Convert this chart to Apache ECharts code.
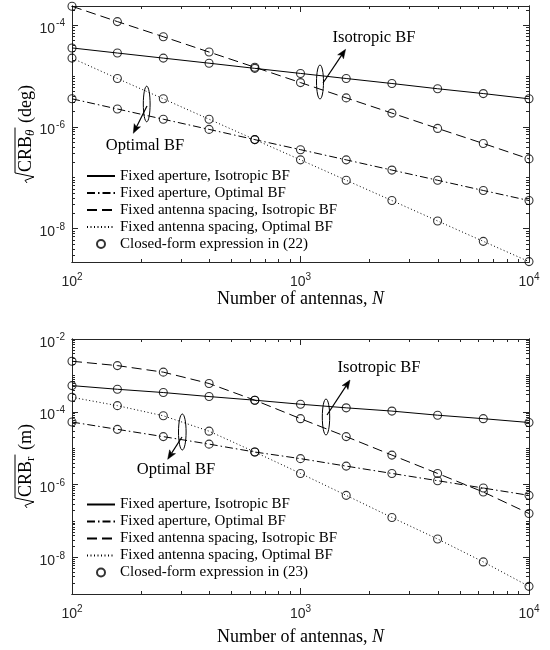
<!DOCTYPE html>
<html><head><meta charset="utf-8">
<script src="https://cdn.jsdelivr.net/npm/echarts@6/dist/echarts.min.js"></script>
<style>html,body{margin:0;padding:0;background:#fff}#c{width:550px;height:650px}</style>
</head><body><div id="c"></div>
<script>
// ---------------- data ----------------
const N = [100, 158, 251, 398, 631, 1000, 1585, 2512, 3981, 6310, 10000];

// top panel: sqrt(CRB_theta) in deg
const thetaApertureIso = [3.55e-5, 2.82e-5, 2.24e-5, 1.78e-5, 1.41e-5, 1.12e-5, 8.9e-6, 7.1e-6, 5.6e-6, 4.5e-6, 3.55e-6];
const thetaApertureOpt = [3.55e-6, 2.24e-6, 1.41e-6, 8.9e-7, 5.6e-7, 3.55e-7, 2.24e-7, 1.41e-7, 8.9e-8, 5.6e-8, 3.55e-8];
const thetaSpacingIso  = [2.34e-4, 1.17e-4, 5.9e-5, 2.95e-5, 1.48e-5, 7.4e-6, 3.7e-6, 1.86e-6, 9.3e-7, 4.7e-7, 2.34e-7];
const thetaSpacingOpt  = [2.24e-5, 8.9e-6, 3.55e-6, 1.41e-6, 5.6e-7, 2.24e-7, 8.9e-8, 3.55e-8, 1.41e-8, 5.6e-9, 2.24e-9];

// bottom panel: sqrt(CRB_r) in m
const rApertureIso = [5.25e-4, 4.17e-4, 3.39e-4, 2.63e-4, 2.09e-4, 1.62e-4, 1.29e-4, 1.05e-4, 8.1e-5, 6.5e-5, 5.1e-5];
const rApertureOpt = [5.25e-5, 3.31e-5, 2.09e-5, 1.30e-5, 7.9e-6, 5.2e-6, 3.24e-6, 2.04e-6, 1.29e-6, 8.1e-7, 5.1e-7];
const rSpacingIso  = [2.45e-3, 1.86e-3, 1.23e-3, 6.0e-4, 2.09e-4, 6.5e-5, 2.09e-5, 6.5e-6, 2.04e-6, 6.3e-7, 1.62e-7];
const rSpacingOpt  = [2.51e-4, 1.48e-4, 7.8e-5, 2.95e-5, 7.9e-6, 2.04e-6, 5.1e-7, 1.26e-7, 3.24e-8, 7.6e-9, 1.62e-9];

// axes
const xRange = [100, 10000];
const yRangeTop = [2.2e-9, 2.37e-4];
const yRangeBottom = [1e-9, 1e-2];
const xLabelTicks = [100, 1000, 10000];
const yLabelTicksTop = [1e-8, 1e-6, 1e-4];
const yLabelTicksBottom = [1e-8, 1e-6, 1e-4, 1e-2];

const names = [
  'Fixed aperture, Isotropic BF',
  'Fixed aperture, Optimal BF',
  'Fixed antenna spacing, Isotropic BF',
  'Fixed antenna spacing, Optimal BF'
];
const closedTop = 'Closed-form expression in (22)';
const closedBottom = 'Closed-form expression in (23)';

// ---------------- helpers ----------------
const AX = '#262626';
const SERIF = '"Liberation Serif", "Times New Roman", serif';
const SANS = '"Liberation Sans", Arial, Helvetica, sans-serif';
const dashTypes = ['solid', [8, 3, 1.5, 3], [10, 5], [1, 2.5]];

function minorTicks(lo, hi, majors) {
  const out = [];
  for (let k = Math.floor(Math.log10(lo)); k <= Math.ceil(Math.log10(hi)); k++) {
    for (let m = 1; m <= 9; m++) {
      const v = m * Math.pow(10, k);
      if (v >= lo * 0.9999 && v <= hi * 1.0001 && !majors.some(t => Math.abs(t - v) / t < 1e-6)) out.push(v);
    }
  }
  return out;
}
function expOf(v) { return Math.round(Math.log10(v)); }

// label configs: base "10" and the exponent drawn as separate labels
const baseLabel = {
  x: { margin: 8, formatter: () => '{b|10}',
       rich: { b: { fontFamily: SANS, fontSize: 14, color: AX, lineHeight: 14, padding: [11, 5.6, 0, 0] } } },
  y: { margin: 7, formatter: () => '{b|10}',
       rich: { b: { fontFamily: SANS, fontSize: 14, color: AX, lineHeight: 14, padding: [7.4, 10, 0, 0] } } }
};
const expLabel = {
  x: { margin: 8, formatter: v => '{s|' + expOf(v) + '}',
       rich: { s: { fontFamily: SANS, fontSize: 10, color: AX, lineHeight: 10, padding: [4, 0, 0, 15.6] } } },
  y: { margin: 7, formatter: v => '{s|' + expOf(v) + '}',
       rich: { s: { fontFamily: SANS, fontSize: 10, color: AX, lineHeight: 10, padding: [0, 0, 3.4, 0] } } }
};

function makeAxis(gridIndex, position, range, ticks, len, labelValues, labelCfg) {
  return {
    type: 'log', logBase: 10, gridIndex, position, min: range[0], max: range[1],
    axisLine: { show: true, onZero: false, lineStyle: { color: AX, width: 1 } },
    axisTick: { show: true, inside: true, length: len, customValues: ticks, lineStyle: { color: AX, width: 1 } },
    axisLabel: labelCfg ? Object.assign({ show: true, customValues: labelValues, hideOverlap: false }, labelCfg)
                        : { show: false },
    splitLine: { show: false }, minorTick: { show: false }, minorSplitLine: { show: false },
    silent: true
  };
}
function axesFor(gridIndex, dim, range, labelTicks) {
  const majors = labelTicks;
  const minors = minorTicks(range[0], range[1], majors);
  const p1 = dim === 'x' ? 'bottom' : 'left';
  const p2 = dim === 'x' ? 'top' : 'right';
  return [
    makeAxis(gridIndex, p1, range, majors, 6, labelTicks, baseLabel[dim]),
    makeAxis(gridIndex, p1, range, minors, 3, labelTicks, expLabel[dim]),
    makeAxis(gridIndex, p2, range, majors, 6, null, null),
    makeAxis(gridIndex, p2, range, minors, 3, null, null)
  ];
}

function pairs(ys) { return N.map((n, i) => [n, ys[i]]); }
function lineSeries(name, ys, idx, g) {
  return {
    type: 'line', name, xAxisIndex: g * 4, yAxisIndex: g * 4, data: pairs(ys),
    symbol: 'none', clip: false, silent: true, z: 3,
    itemStyle: { color: '#000' },
    lineStyle: { color: '#000', width: 1, type: dashTypes[idx] }
  };
}
function scatterSeries(name, sets, g) {
  let d = [];
  sets.forEach(s => { d = d.concat(pairs(s)); });
  return {
    type: 'scatter', name, xAxisIndex: g * 4, yAxisIndex: g * 4, data: d,
    symbol: 'circle', symbolSize: 8, clip: false, silent: true, z: 4,
    itemStyle: { color: 'rgba(0,0,0,0)', borderColor: '#000', borderWidth: 1.1 }
  };
}

// annotation helpers
function ellipse(cx, cy, rx, ry) {
  return { type: 'ellipse', shape: { cx, cy, rx, ry }, style: { fill: 'none', stroke: '#000', lineWidth: 1 }, z: 10 };
}
function arrow(x1, y1, x2, y2) {
  const dx = x2 - x1, dy = y2 - y1, L = Math.hypot(dx, dy);
  const ux = dx / L, uy = dy / L, hl = 9, hw = 3.5;
  const bx = x2 - ux * hl, by = y2 - uy * hl;
  return [
    { type: 'line', shape: { x1, y1, x2: bx + ux * 2, y2: by + uy * 2 }, style: { stroke: '#000', lineWidth: 1.2 }, z: 10 },
    { type: 'polygon', shape: { points: [[x2, y2], [bx - uy * hw, by + ux * hw], [bx + ux * 2, by + uy * 2], [bx + uy * hw, by - ux * hw]] },
      style: { fill: '#000', stroke: '#000', lineWidth: 0.5 }, z: 10 }
  ];
}
function label(text, x, y, size) {
  return { type: 'text', x, y, z: 10,
    style: { text, font: size + 'px ' + SERIF, fill: '#000', align: 'center', verticalAlign: 'middle' } };
}
function xTitle(x, y) {
  return { type: 'text', x, y, z: 10,
    style: { text: '{a|Number of antennas, }{i|N}', align: 'center', verticalAlign: 'middle',
      rich: { a: { fontFamily: SERIF, fontSize: 18, fill: '#000', color: '#000' },
              i: { fontFamily: SERIF, fontSize: 18, fontStyle: 'italic', fill: '#000', color: '#000' } } } };
}
function yTitle(cx, cy, sub, subItalic, unit) {
  const ctx = document.createElement('canvas').getContext('2d');
  const mainFont = '18px ' + SERIF;
  const subFont = (subItalic ? 'italic ' : '') + '13px ' + SERIF;
  ctx.font = mainFont;
  const wCRB = ctx.measureText('CRB').width;
  const wUnit = ctx.measureText(' ' + unit).width;
  ctx.font = subFont;
  const wSub = ctx.measureText(sub).width;
  const wRad = 11;
  const total = wRad + wCRB + wSub + 2 + wUnit;
  const x0 = -total / 2;
  const xC = x0 + wRad;
  const xEnd = xC + wCRB + wSub + 2;
  return {
    type: 'group', x: cx, y: cy, rotation: Math.PI / 2, z: 10,
    children: [
      { type: 'polyline', shape: { points: [[x0, 1], [x0 + 2.5, -1], [x0 + 6, 8], [x0 + 10, -11], [xEnd, -11]] },
        style: { stroke: '#000', fill: 'none', lineWidth: 1 } },
      { type: 'text', x: xC, y: 0, style: { text: 'CRB', font: mainFont, fill: '#000', align: 'left', verticalAlign: 'middle' } },
      { type: 'text', x: xC + wCRB, y: 5, style: { text: sub, font: subFont, fill: '#000', align: 'left', verticalAlign: 'middle' } },
      { type: 'text', x: xEnd, y: 0, style: { text: ' ' + unit, font: mainFont, fill: '#000', align: 'left', verticalAlign: 'middle' } }
    ]
  };
}

// ---------------- option ----------------
const grids = [
  { left: 72, top: 6, width: 457, height: 256 },
  { left: 72, top: 339, width: 457, height: 255 }
];
const xAxes = [].concat(axesFor(0, 'x', xRange, xLabelTicks), axesFor(1, 'x', xRange, xLabelTicks));
const yAxes = [].concat(axesFor(0, 'y', yRangeTop, yLabelTicksTop), axesFor(1, 'y', yRangeBottom, yLabelTicksBottom));

const topSets = [thetaApertureIso, thetaApertureOpt, thetaSpacingIso, thetaSpacingOpt];
const botSets = [rApertureIso, rApertureOpt, rSpacingIso, rSpacingOpt];
const series = [];
topSets.forEach((s, i) => series.push(lineSeries(names[i], s, i, 0)));
series.push(scatterSeries(closedTop, topSets, 0));
botSets.forEach((s, i) => series.push(lineSeries(names[i], s, i, 1)));
series.push(scatterSeries(closedBottom, botSets, 1));

function legendAt(top, closed) {
  return {
    data: names.map(n => ({ name: n, itemStyle: { opacity: 0 } })).concat([{ name: closed }]),
    orient: 'vertical', left: 86, top, padding: 0,
    itemWidth: 28, itemHeight: 8, itemGap: 2, selectedMode: false,
    textStyle: { fontFamily: SERIF, fontSize: 15, color: '#000', lineHeight: 15 }
  };
}

const graphic = [].concat(
  [ellipse(320, 82, 3.5, 17), label('Isotropic BF', 374, 38, 16.5)],
  arrow(323, 83, 345.6, 49.3),
  [ellipse(146.7, 104, 3.4, 17.8), label('Optimal BF', 145, 146, 16.5)],
  arrow(147, 106, 133.3, 133.3),
  [ellipse(326, 417, 3.7, 18), label('Isotropic BF', 379, 368, 16.5)],
  arrow(327, 415, 350, 380),
  [ellipse(182.3, 432, 3.8, 18), label('Optimal BF', 176, 470, 16.5)],
  arrow(182, 437, 167.7, 459.3),
  [xTitle(300.5, 299), xTitle(300.5, 637)],
  [yTitle(26, 134, 'θ', true, '(deg)'), yTitle(26, 466, 'r', false, '(m)')]
);

const chart = echarts.init(document.getElementById('c'));
chart.setOption({
  backgroundColor: '#fff',
  animation: false,
  grid: grids,
  xAxis: xAxes,
  yAxis: yAxes,
  legend: [legendAt(168.5, closedTop), legendAt(497, closedBottom)],
  series,
  graphic
});
</script></body></html>
